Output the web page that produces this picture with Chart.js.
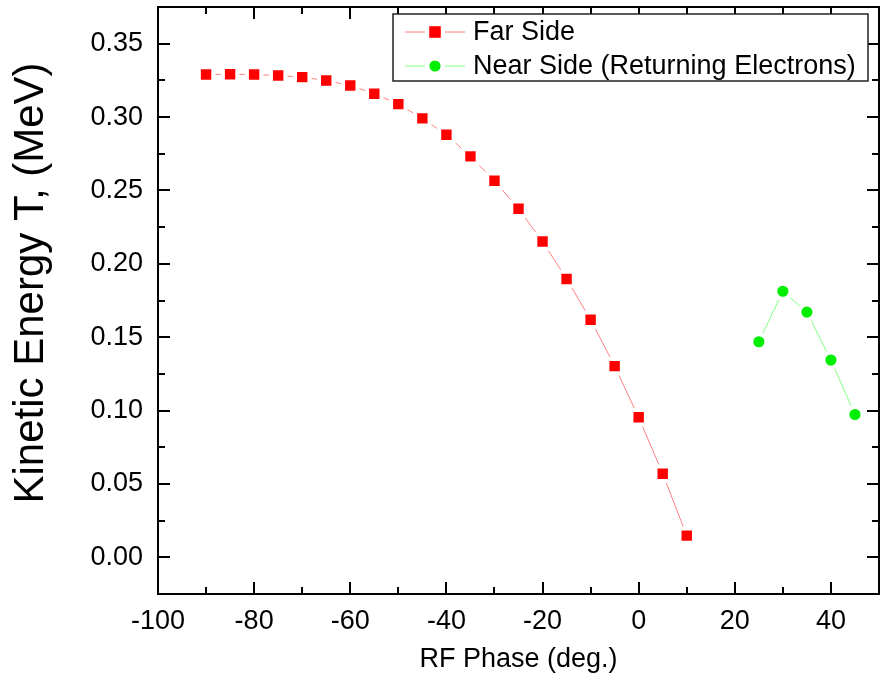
<!DOCTYPE html>
<html>
<head>
<meta charset="utf-8">
<script src="https://cdn.jsdelivr.net/npm/chart.js@4.4.0/dist/chart.umd.min.js"></script>
<style>
html, body { margin: 0; padding: 0; background: #fff; }
</style>
</head>
<body>
<canvas id="phaseChart" width="881" height="683"></canvas>
<script>
// values
var farPhase = [-90, -85, -80, -75, -70, -65, -60, -55, -50, -45, -40, -35, -30, -25, -20, -15, -10, -5, 0, 5, 10];
var farEnergy = [0.329, 0.3292, 0.329, 0.3283, 0.3272, 0.3249, 0.3215, 0.3159, 0.3088, 0.2991, 0.288, 0.2732, 0.2566, 0.2375, 0.2152, 0.1897, 0.1619, 0.1303, 0.0954, 0.057, 0.0148];
var nearPhase = [25, 30, 35, 40, 45];
var nearEnergy = [0.1469, 0.1813, 0.1671, 0.1344, 0.0973];

var xTicks = [-100, -80, -60, -40, -20, 0, 20, 40];
var xMinorTicks = [-90, -70, -50, -30, -10, 10, 30];
var yTicks = [0, 0.05, 0.10, 0.15, 0.20, 0.25, 0.30, 0.35];
var yMinorTicks = [0.025, 0.075, 0.125, 0.175, 0.225, 0.275, 0.325];

var fontFam = "Arial, 'Liberation Sans', sans-serif";

function toPoints(xs, ys) {
    return xs.map(function (x, i) { return { x: x, y: ys[i] }; });
}

// frame, inward ticks on all four sides, and the boxed legend
var framePlugin = {
    id: 'frame',
    afterDraw: function (chart) {
        var ctx = chart.ctx;
        var a = chart.chartArea;
        var xs = chart.scales.x, ys = chart.scales.y;
        ctx.save();
        ctx.strokeStyle = '#000';
        ctx.lineWidth = 2;
        ctx.strokeRect(a.left, a.top, a.right - a.left, a.bottom - a.top);

        ctx.beginPath();
        function xTick(v, len) {
            var px = Math.round(xs.getPixelForValue(v));
            ctx.moveTo(px, a.bottom); ctx.lineTo(px, a.bottom - len);
            ctx.moveTo(px, a.top); ctx.lineTo(px, a.top + len);
        }
        function yTick(v, len) {
            var py = Math.round(ys.getPixelForValue(v));
            ctx.moveTo(a.left, py); ctx.lineTo(a.left + len, py);
            ctx.moveTo(a.right, py); ctx.lineTo(a.right - len, py);
        }
        xTicks.forEach(function (v) { xTick(v, 12); });
        xMinorTicks.forEach(function (v) { xTick(v, 7); });
        yTicks.forEach(function (v) { yTick(v, 12); });
        yMinorTicks.forEach(function (v) { yTick(v, 7); });
        ctx.stroke();

        // legend box
        var x0 = a.right - 486, y0 = a.top + 7, w = 475, h = 67;
        ctx.fillStyle = '#fff';
        ctx.fillRect(x0, y0, w, h);
        ctx.lineWidth = 1.5;
        ctx.strokeStyle = '#222';
        ctx.strokeRect(x0, y0, w, h);

        ctx.font = '27px ' + fontFam;
        ctx.textBaseline = 'middle';
        chart.data.datasets.forEach(function (ds, i) {
            var cy = y0 + 18 + i * 34;
            ctx.strokeStyle = ds.borderColor;
            ctx.lineWidth = 1;
            ctx.beginPath();
            ctx.moveTo(x0 + 12, cy); ctx.lineTo(x0 + 32, cy);
            ctx.moveTo(x0 + 52, cy); ctx.lineTo(x0 + 72, cy);
            ctx.stroke();
            ctx.fillStyle = ds.pointBackgroundColor;
            Chart.helpers.drawPoint(ctx, {
                pointStyle: ds.pointStyle,
                radius: ds.pointRadius - 2,
                borderWidth: 0,
                rotation: 0
            }, x0 + 42, cy);
            ctx.fillStyle = '#000';
            ctx.fillText(ds.label, x0 + 80, cy + 1);
        });
        ctx.restore();
    }
};

var ctx = document.getElementById('phaseChart').getContext('2d');
var myChart = new Chart(ctx, {
    type: 'line',
    data: {
        datasets: [{
            label: 'Far Side',
            data: toPoints(farPhase, farEnergy),
            borderColor: '#ff8080',
            borderWidth: 1,
            pointStyle: 'rect',
            pointRadius: 10.2,
            pointBackgroundColor: '#ff0000',
            pointBorderColor: '#ffffff',
            pointBorderWidth: 4,
            tension: 0
        }, {
            label: 'Near Side (Returning Electrons)',
            data: toPoints(nearPhase, nearEnergy),
            borderColor: '#80ff80',
            borderWidth: 1,
            pointStyle: 'circle',
            pointRadius: 7.6,
            pointBackgroundColor: '#00ee00',
            pointBorderColor: '#ffffff',
            pointBorderWidth: 4,
            tension: 0
        }]
    },
    options: {
        responsive: false,
        animation: false,
        events: [],
        layout: {
            autoPadding: false,
            padding: { top: 7, right: 2, left: 0, bottom: 0 }
        },
        scales: {
            x: {
                type: 'linear',
                min: -100,
                max: 50,
                grid: { display: false, drawTicks: false },
                border: { display: false },
                afterBuildTicks: function (s) {
                    s.ticks = xTicks.map(function (v) { return { value: v }; });
                },
                afterFit: function (s) {
                    s.height = 89;
                    s.paddingLeft = 0;
                    s.paddingRight = 0;
                },
                ticks: {
                    color: '#000',
                    padding: 11,
                    maxRotation: 0,
                    font: { family: fontFam, size: 27 },
                    callback: function (v) { return v; }
                },
                title: {
                    display: true,
                    text: 'RF Phase (deg.)',
                    color: '#000',
                    font: { family: fontFam, size: 27 },
                    padding: { top: 0, bottom: 7 }
                }
            },
            y: {
                min: -0.025,
                max: 0.375,
                grid: { display: false, drawTicks: false },
                border: { display: false },
                afterBuildTicks: function (s) {
                    s.ticks = yTicks.map(function (v) { return { value: v }; });
                },
                afterFit: function (s) {
                    s.width = 158;
                    s.paddingTop = 0;
                    s.paddingBottom = 0;
                },
                ticks: {
                    color: '#000',
                    padding: 15,
                    font: { family: fontFam, size: 27 },
                    callback: function (v) { return Number(v).toFixed(2); }
                },
                title: {
                    display: true,
                    text: '   Kinetic Energy T, (MeV)',
                    color: '#000',
                    font: { family: fontFam, size: 42 },
                    padding: { top: 6, bottom: 0 }
                }
            }
        },
        plugins: {
            legend: { display: false },
            tooltip: { enabled: false }
        }
    },
    plugins: [framePlugin]
});
</script>
</body>
</html>
